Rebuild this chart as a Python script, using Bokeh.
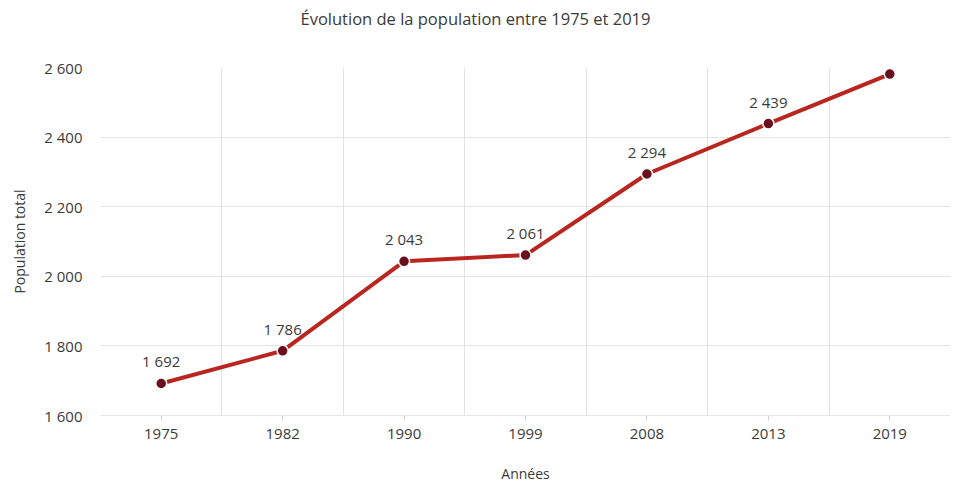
from bokeh.plotting import figure
from bokeh.models import Range1d, FixedTicker, ColumnDataSource, LabelSet, Title
from bokeh.core.properties import value
from bokeh.embed import file_html
from bokeh.resources import INLINE

years = ["1975", "1982", "1990", "1999", "2008", "2013", "2019"]
population = [1692, 1786, 2043, 2061, 2294, 2439, 2581]
y_ticks = [1600, 1800, 2000, 2200, 2400, 2600]

def fmt(v):
    return f"{v:,}".replace(",", " ")

FONT = "Open Sans"
TXT = "#3a3a3a"
FS = "15px"

xs = [i + 0.5 for i in range(len(years))]
src = ColumnDataSource(dict(x=xs, y=population, lbl=[fmt(v) for v in population]))

p = figure(width=950, height=489, output_backend="svg", toolbar_location=None,
           x_range=Range1d(0, len(years)), y_range=Range1d(y_ticks[0], y_ticks[-1]),
           min_border_left=100, min_border_right=0, min_border_top=67, min_border_bottom=74,
           title="Évolution de la population entre 1975 et 2019")
p.outline_line_color = None
p.background_fill_color = "white"

p.title.align = "left"
p.title.offset = 200
p.title.text_font = FONT
p.title.text_font_size = "16.5px"
p.title.text_font_style = "normal"
p.title.text_color = TXT
p.title.standoff = 0

# spacer between title and plot area
p.add_layout(Title(text=" ", text_font_size="32px", standoff=0), "above")

# axes
p.xaxis.ticker = FixedTicker(ticks=xs)
p.xaxis.major_label_overrides = {x: y for x, y in zip(xs, years)}
p.xaxis.axis_line_color = "#e6e6e6"
p.xaxis.major_tick_line_color = "#d0d0d0"
p.xaxis.major_tick_out = 5
p.xaxis.major_tick_in = 0
p.xaxis.minor_tick_line_color = None
p.xaxis.major_label_standoff = 8
p.xaxis.axis_label = "Années"
p.xaxis.axis_label_standoff = 22

p.yaxis.ticker = FixedTicker(ticks=y_ticks)
p.yaxis.major_label_overrides = {t: fmt(t) for t in y_ticks}
p.yaxis.axis_line_color = None
p.yaxis.major_tick_line_color = None
p.yaxis.minor_tick_line_color = None
p.yaxis.major_label_standoff = 12
p.yaxis.axis_label = "Population total"
p.yaxis.axis_label_standoff = 12

for ax in (p.xaxis, p.yaxis):
    ax.major_label_text_font = FONT
    ax.major_label_text_font_size = FS
    ax.major_label_text_color = TXT
    ax.axis_label_text_font = FONT
    ax.axis_label_text_font_size = "14px"
    ax.axis_label_text_font_style = "normal"
    ax.axis_label_text_color = TXT

# grids
p.xgrid.ticker = FixedTicker(ticks=list(range(len(years) + 1)))
p.xgrid.grid_line_color = "#e3e3e3"
p.ygrid.ticker = FixedTicker(ticks=y_ticks)
p.ygrid.grid_line_color = "#e3e3e3"

p.line("x", "y", source=src, line_color="#b9261f", line_width=4)
p.scatter("x", "y", source=src, size=11, fill_color="#6a0d1c", line_color="white", line_width=1.5)

labels = LabelSet(x="x", y="y", text="lbl", source=src, text_align="center",
                  text_baseline="bottom", y_offset=12, text_font=value(FONT),
                  text_font_size=FS, text_color=TXT)
p.add_layout(labels)

open("out.html", "w").write(file_html(p, INLINE))
